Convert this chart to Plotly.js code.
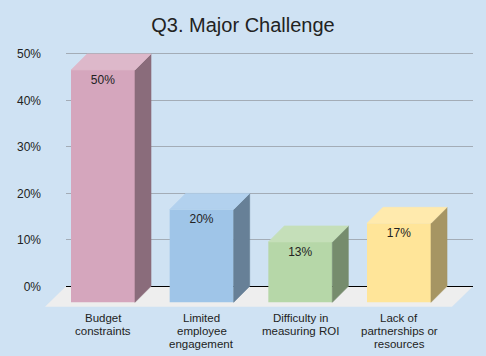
<!DOCTYPE html>
<html><head><meta charset="utf-8">
<script src="https://cdn.plot.ly/plotly-3.0.1.min.js"></script>
<style>html,body{margin:0;padding:0;background:#cfe2f3;}</style>
</head><body><div id="chart" style="width:486px;height:356px;"></div>
<script>
const categories = ["Budget<br>constraints", "Limited<br>employee<br>engagement", "Difficulty in<br>measuring ROI", "Lack of<br>partnerships or<br>resources"];
const values = [50, 20, 13, 17];
const valueLabels = ["50%", "20%", "13%", "17%"];
const tickVals = [0, 10, 20, 30, 40, 50];
const tickText = ["0%", "10%", "20%", "30%", "40%", "50%"];
const frontColors = ["#d5a6bd", "#9fc5e8", "#b6d7a8", "#ffe599"];
const sideColors = ["#8a6c7b", "#678097", "#768c6d", "#a69563"];
const topColors = ["#ddb8ca", "#b2d1ee", "#c5dfb9", "#ffeaad"];

// layout geometry (pixels)
const W = 486, H = 356;
const gridL = 66, gridR = 473;
const zeroPx = 286.3, fiftyPx = 54;
const k = (zeroPx - fiftyPx) / 50;
const yMin = -4.8, yMax = 52;
const yDomTopPx = zeroPx - yMax * k, yDomBotPx = zeroPx - yMin * k;
const yDomain = [1 - yDomBotPx / H, 1 - yDomTopPx / H];
const firstCenterPx = 103, catPx = 98.67, barPx = 64, depthPx = 16;
const x2L = 36, x2R = 482;
const x2Range = [(x2L - firstCenterPx) / catPx, (x2R - firstCenterPx) / catPx];
const bw = barPx / catPx, dx = depthPx / catPx, dy = depthPx / k;
const floorDepthX = 21, floorDepthY = 20.4;
const FONT = '"Liberation Sans", Arial, sans-serif';

const xs = values.map((v, i) => i);
// empty trace so the gridline subplot (x/y) is created
const traces = [{type: 'scatter', mode: 'none', x: [], y: [], xaxis: 'x', yaxis: 'y', hoverinfo: 'skip'}];
xs.forEach((x, i) => {
  const v = values[i];
  const xl = x - bw / 2, xr = x + bw / 2;
  traces.push({
    type: 'scatter', mode: 'lines', fill: 'toself', xaxis: 'x2', yaxis: 'y2',
    x: [xr, xr, xr + dx, xr + dx, xr], y: [-dy, v - dy, v, 0, -dy],
    fillcolor: sideColors[i], line: {width: 0.6, color: sideColors[i]}, hoverinfo: 'skip'
  });
  traces.push({
    type: 'scatter', mode: 'lines', fill: 'toself', xaxis: 'x2', yaxis: 'y2',
    x: [xl, xr, xr + dx, xl + dx, xl], y: [v - dy, v - dy, v, v, v - dy],
    fillcolor: topColors[i], line: {width: 0.6, color: topColors[i]}, hoverinfo: 'skip'
  });
});
traces.push({
  type: 'bar', xaxis: 'x2', yaxis: 'y2', x: xs, y: values, base: values.map(() => -dy),
  width: bw, marker: {color: frontColors, line: {width: 0}},
  text: valueLabels, textposition: 'inside', insidetextanchor: 'end', textangle: 0,
  textfont: {family: FONT, size: 12, color: '#222222'}, hoverinfo: 'skip'
});

const annotations = [];
categories.forEach((c, i) => {
  c.split('<br>').forEach((line, j) => {
    annotations.push({
      x: i, xref: 'x2', y: 1 - (318 + j * 13) / H, yref: 'paper',
      text: line, showarrow: false, yanchor: 'middle', xanchor: 'center',
      font: {family: FONT, size: 11.5, color: '#222222'}
    });
  });
});

const px = p => p / W, py = p => 1 - p / H;
const floorPath = 'M ' + px(gridL) + ',' + py(zeroPx) + ' L ' + px(gridR) + ',' + py(zeroPx) +
  ' L ' + px(gridR - floorDepthX) + ',' + py(zeroPx + floorDepthY) +
  ' L ' + px(gridL - floorDepthX) + ',' + py(zeroPx + floorDepthY) + ' Z';

const layout = {
  width: W, height: H, margin: {l: 0, r: 0, t: 0, b: 0},
  paper_bgcolor: '#cfe2f3', plot_bgcolor: 'rgba(0,0,0,0)', showlegend: false,
  font: {family: FONT, color: '#222222'},
  title: {text: 'Q3. Major Challenge', x: 0.5, xanchor: 'center', xref: 'paper',
          y: 1 - 25 / H, yanchor: 'middle', font: {family: FONT, size: 20, color: '#222222'}},
  xaxis: {domain: [gridL / W, gridR / W], range: [0, 1], visible: false, fixedrange: true},
  yaxis: {domain: yDomain, range: [yMin, yMax], tickvals: tickVals, ticktext: tickText,
          showgrid: true, gridcolor: '#a3acb6', gridwidth: 1, zeroline: true, zerolinecolor: '#000000',
          zerolinewidth: 1.5, ticks: '', ticklabelstandoff: 24, showline: false,
          tickfont: {family: FONT, size: 12, color: '#222222'}, fixedrange: true},
  xaxis2: {domain: [x2L / W, x2R / W], range: x2Range, visible: false, anchor: 'y2', fixedrange: true},
  yaxis2: {domain: yDomain, range: [yMin, yMax], visible: false, anchor: 'x2', fixedrange: true},
  shapes: [{type: 'path', xref: 'paper', yref: 'paper', path: floorPath, fillcolor: '#eeeeee',
            line: {width: 0}, layer: 'below'}],
  annotations: annotations
};
Plotly.newPlot('chart', traces, layout, {displayModeBar: false, staticPlot: true});
</script></body></html>
